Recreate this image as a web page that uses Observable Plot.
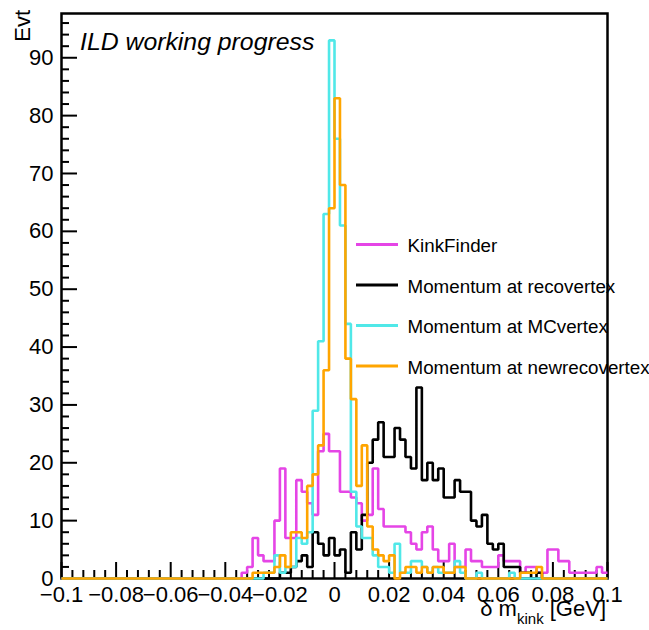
<!DOCTYPE html>
<html>
<head>
<meta charset="utf-8">
<script src="https://cdn.jsdelivr.net/npm/d3@7"></script>
<script src="https://cdn.jsdelivr.net/npm/@observablehq/plot@0.6"></script>
<style>
html, body { margin: 0; padding: 0; background: #fff; overflow: hidden; }
#chart svg { display: block; }
</style>
</head>
<body>
<div id="chart"></div>
<script>
// ---------- data (100 bins of width 0.002 GeV from -0.1 to 0.1) ----------
const xLow = -0.1, xHigh = 0.1, nBins = 100;

const kinkFinder = [
  0,0,0,0,0,0,0,0,0,0, 0,0,0,0,0,0,0,0,0,0, 0,0,0,0,0,0,0,0,0,0,
  0,0,0,1,2,7,4,3,3,10, 19,7,7,17,15,13,11,22,25,22,
  22,15,15,14,13,10,11,19,12,9, 9,9,9,8,6,5,8,9,5,3,
  3,6,2,2,5,3,3,2,2,2, 4,3,3,3,1,2,2,1,1,5, 5,3,3,1,1,1,1,1,2,1
];
const recoVertex = [
  0,0,0,0,0,0,0,0,0,0, 0,0,0,0,0,0,0,0,0,0, 0,0,0,0,0,0,0,0,0,0,
  0,0,0,0,0,0,0,0,0,0, 1,1,2,3,4,2,8,6,4,7,
  4,5,1,8,5,11,20,24,27,21, 21,26,24,21,19,33,17,20,17,19,
  14,14,17,15,15,10,9,11,6,5, 6,2,2,2,1,1,0,1,0,0, 0,0,0,0,0,0,0,0,0,0
];
const mcVertex = [
  0,0,0,0,0,0,0,0,0,0, 0,0,0,0,0,0,0,0,0,0, 0,0,0,0,0,0,0,0,0,0,
  0,0,0,0,0,0,0,1,1,4, 1,2,2,7,6,8,29,41,63,93,
  76,61,44,15,9,7,7,4,2,2, 1,6,1,1,3,3,2,1,2,1,
  1,1,3,1,0,0,1,0,0,0, 0,0,1,0,0,0,0,0,0,0, 0,0,0,0,0,0,0,0,0,0
];
const newRecoVertex = [
  0,0,0,0,0,0,0,0,0,0, 0,0,0,0,0,0,0,0,0,0, 0,0,0,0,0,0,0,0,0,0,
  0,0,0,0,0,1,1,1,1,2, 4,2,8,8,7,16,18,23,36,64,
  83,68,38,31,16,23,9,5,4,3, 4,0,1,2,2,1,2,1,2,2,
  1,1,2,2,0,0,0,0,0,0, 0,0,0,0,1,1,1,2,0,0, 0,0,0,0,0,0,0,0,0,0
];

const seriesNames = ["KinkFinder", "Momentum at recovertex", "Momentum at MCvertex", "Momentum at newrecovertex"];
const seriesColors = ["#e545e6", "#000000", "#50e8e8", "#ffa500"];
const seriesCounts = [kinkFinder, recoVertex, mcVertex, newRecoVertex];

const xMajorTicks = [-0.1, -0.08, -0.06, -0.04, -0.02, 0, 0.02, 0.04, 0.06, 0.08, 0.1];
const xTickLabels = ["\u22120.1", "\u22120.08", "\u22120.06", "\u22120.04", "\u22120.02", "0", "0.02", "0.04", "0.06", "0.08", "0.1"];
const yMajorTicks = [0, 10, 20, 30, 40, 50, 60, 70, 80, 90];
const yTickLabels = ["0", "10", "20", "30", "40", "50", "60", "70", "80", "90"];
const yMax = 97.65;

// ---------- layout ----------
const W = 649, H = 630, mL = 61, mR = 42, mT = 13, mB = 52;
const innerW = W - mL - mR, innerH = H - mT - mB;
const FONT = "'Liberation Sans', Arial, Helvetica, sans-serif";
const majorLen = 16, minorLen = 8;

const xMinorTicks = d3.range(51).map(i => xLow + 0.004 * i).filter((d, i) => i % 5 !== 0);
const yMinorTicks = d3.range(0, 98, 2).filter(d => d % 10 !== 0);

const edges = d3.range(nBins + 1).map(i => xLow + (xHigh - xLow) * i / nBins);
const steps = counts => edges.map((x, i) => ({x, y: counts[Math.min(i, nBins - 1)]}));

const yTickLen = len => yMax * len / innerH;
const xTickLen = len => (xHigh - xLow) * len / innerW;

const marks = [
  Plot.ruleX(xMajorTicks, {x: d => d, y1: 0, y2: yTickLen(majorLen), stroke: "black", strokeWidth: 2}),
  Plot.ruleX(xMinorTicks, {x: d => d, y1: 0, y2: yTickLen(minorLen), stroke: "black", strokeWidth: 2}),
  Plot.ruleY(yMajorTicks, {y: d => d, x1: xLow, x2: xLow + xTickLen(majorLen), stroke: "black", strokeWidth: 2}),
  Plot.ruleY(yMinorTicks, {y: d => d, x1: xLow, x2: xLow + xTickLen(minorLen), stroke: "black", strokeWidth: 2}),
  Plot.axisX(xMajorTicks, {tickSize: 0, tickPadding: 8, fontSize: 22, label: null,
    tickFormat: d => xTickLabels[Math.round((d - xLow) / 0.02)]}),
  Plot.axisY(yMajorTicks, {tickSize: 0, tickPadding: 8, fontSize: 22, label: null,
    tickFormat: d => yTickLabels[Math.round(d / 10)]}),
  Plot.frame({stroke: "black", strokeWidth: 2.5}),
  ...seriesCounts.map((c, k) => Plot.line(steps(c), {
    x: "x", y: "y", curve: "step-after", stroke: seriesColors[k], strokeWidth: 2.6,
    strokeLinejoin: "miter", strokeLinecap: "butt"
  }))
];

const chart = Plot.plot({
  width: W, height: H,
  marginLeft: mL, marginRight: mR, marginTop: mT, marginBottom: mB,
  x: {domain: [xLow, xHigh]},
  y: {domain: [0, yMax]},
  style: {fontFamily: FONT, color: "black", background: "white", overflow: "visible"},
  marks
});
document.getElementById("chart").appendChild(chart);

// ---------- texts & legend (ROOT-style, inside canvas) ----------
const svg = d3.select(chart);
const g = svg.append("g").attr("font-family", FONT).attr("fill", "black").attr("text-anchor", "start");

g.append("text").attr("x", 80).attr("y", 50).attr("font-size", 24.8).attr("font-style", "italic")
  .attr("text-anchor", "start").text("ILD working progress");

g.append("text").attr("transform", "translate(30,10) rotate(-90)").attr("text-anchor", "end")
  .attr("font-size", 22).text("Evt");

const xt = g.append("text").attr("x", 606).attr("y", 616).attr("text-anchor", "end").attr("font-size", 22);
xt.append("tspan").text("\u03b4 m");
xt.append("tspan").attr("font-size", 15).attr("dy", 8).text("kink");
xt.append("tspan").attr("dy", -8).text(" [GeV]");

const legY = [244.5, 285, 325.5, 366];
seriesNames.forEach((name, k) => {
  g.append("line").attr("x1", 356).attr("x2", 398).attr("y1", legY[k]).attr("y2", legY[k])
    .attr("stroke", seriesColors[k]).attr("stroke-width", 3);
  g.append("text").attr("x", 407.5).attr("y", legY[k] + 1).attr("dominant-baseline", "central")
    .attr("text-anchor", "start").attr("font-size", 18.8).text(name);
});
</script>
</body>
</html>
